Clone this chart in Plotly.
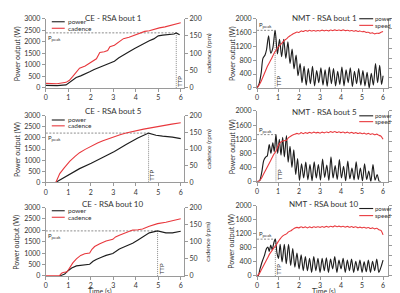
import plotly.graph_objects as go

# ---------------- DATA ----------------
# CE - RSA bout 1
ce1_t_pow = [0, 0.5, 0.9, 1.05, 1.2, 1.35, 1.55, 1.75, 1.95, 2.15, 2.35, 2.5, 2.75, 2.95, 3.05, 3.25, 3.45, 3.7, 3.95, 4.15, 4.4, 4.6, 4.8, 5.0, 5.2, 5.45, 5.7, 5.8, 5.95]
ce1_pow = [110, 100, 130, 240, 350, 450, 520, 600, 700, 800, 880, 940, 1040, 1100, 1150, 1300, 1430, 1560, 1700, 1800, 1960, 2040, 2120, 2250, 2280, 2290, 2330, 2380, 2300]
ce1_t_cad = [0, 0.5, 0.9, 1.05, 1.2, 1.35, 1.5, 1.75, 1.95, 2.1, 2.25, 2.4, 2.6, 2.75, 2.85, 3.05, 3.25, 3.45, 3.7, 3.95, 4.2, 4.4, 4.6, 4.8, 5.05, 5.3, 5.5, 5.75, 6.0]
ce1_cad = [13, 12, 16, 22, 33, 45, 57, 63, 72, 78, 84, 102, 104, 108, 119, 123, 132, 142, 146, 152, 157, 163, 165, 169, 173, 176, 180, 184, 188]

# CE - RSA bout 5
ce5_t_pow = [0.45, 0.62, 1.06, 1.5, 2.02, 2.54, 3.05, 3.57, 4.09, 4.57, 4.9, 5.19, 5.63, 6.0]
ce5_pow = [0, 100, 390, 615, 860, 1130, 1390, 1710, 2000, 2220, 2120, 2080, 2040, 1970]
ce5_t_cad = [0.45, 0.62, 0.8, 1.06, 1.3, 1.5, 1.75, 2.02, 2.3, 2.54, 2.8, 3.05, 3.3, 3.57, 3.8, 4.09, 4.35, 4.6, 4.9, 5.19, 5.6, 6.0]
ce5_cad = [0, 26, 42, 63, 78, 89, 99, 109, 118, 125, 132, 138, 143, 148, 152, 156, 160, 163, 167, 170, 175, 179]

# CE - RSA bout 10
ce10_t_pow = [0.62, 0.84, 0.99, 1.15, 1.36, 1.7, 1.95, 2.1, 2.24, 2.5, 2.68, 2.98, 3.1, 3.27, 3.55, 3.86, 4.1, 4.3, 4.6, 4.97, 5.15, 5.34, 5.63, 6.0]
ce10_pow = [0, 85, 230, 350, 440, 480, 510, 640, 725, 830, 900, 980, 1080, 1180, 1300, 1435, 1580, 1720, 1890, 1975, 1940, 1890, 1890, 1960]
ce10_t_cad = [0, 0.6, 0.7, 0.77, 0.95, 1.06, 1.2, 1.36, 1.55, 1.73, 1.95, 2.05, 2.17, 2.4, 2.68, 2.98, 3.1, 3.27, 3.55, 3.86, 4.1, 4.3, 4.6, 4.97, 5.34, 5.7, 6.0]
ce10_cad = [0, 0, 8, 10, 12, 25, 38, 50, 60, 65, 67, 78, 86, 94, 102, 107, 114, 119, 127, 134, 135, 137, 145, 153, 157, 162, 167]

# NMT - RSA bout 1
nmt1_t_pow = [0, 0.1, 0.2, 0.28, 0.38, 0.45, 0.55, 0.65, 0.75, 0.86, 0.97, 1.07, 1.17, 1.27, 1.37, 1.47, 1.57, 1.67, 1.76, 1.86, 1.95,
              2.05, 2.14, 2.24, 2.34, 2.44, 2.54, 2.64, 2.74, 2.84, 2.94, 3.04, 3.14, 3.24, 3.34, 3.44, 3.54, 3.64, 3.74, 3.84, 3.94,
              4.04, 4.14, 4.24, 4.34, 4.44, 4.54, 4.64, 4.74, 4.84, 4.94, 5.04, 5.14, 5.24, 5.34, 5.44, 5.54, 5.64, 5.74, 5.84, 5.93, 6.0]
nmt1_pow = [0, 120, 450, 850, 950, 1100, 1500, 1000, 1150, 1660, 980, 1400, 900, 1400, 850, 1330, 700, 1120, 550, 950, 350,
            700, 150, 620, 80, 560, 120, 620, 60, 500, 150, 580, 80, 520, 50, 600, 120, 560, 60, 480, 100,
            600, 60, 520, 150, 580, 40, 480, 120, 560, 80, 500, 60, 450, 0, 420, 80, 700, 150, 650, 100, 350]
nmt_t_spd = [round(i * 0.1, 1) for i in range(61)]
nmt1_spd = [0, 0.3, 0.7, 1.2, 1.7, 2.2, 2.6, 3.0, 3.45, 3.8, 4.1, 4.35, 4.55, 4.8, 4.95, 5.15, 5.3, 5.45, 5.55, 5.65,
            5.6, 5.75, 5.7, 5.8, 5.72, 5.82, 5.74, 5.8, 5.72, 5.8, 5.75, 5.83, 5.76, 5.82, 5.74, 5.85, 5.78, 5.86, 5.8, 5.84,
            5.78, 5.86, 5.78, 5.82, 5.74, 5.8, 5.72, 5.78, 5.7, 5.75, 5.66, 5.7, 5.6, 5.62, 5.52, 5.55, 5.45, 5.52, 5.5, 5.62, 5.7]

# NMT - RSA bout 5
nmt5_t_pow = [0, 0.12, 0.22, 0.32, 0.42, 0.48, 0.58, 0.66, 0.75, 0.82, 0.9, 0.98, 1.06, 1.14, 1.22, 1.3, 1.4, 1.48, 1.57, 1.66, 1.75, 1.84, 1.93,
              2.02, 2.12, 2.22, 2.32, 2.42, 2.52, 2.62, 2.72, 2.82, 2.92, 3.02, 3.12, 3.22, 3.32, 3.42, 3.52, 3.62, 3.72, 3.82, 3.92,
              4.02, 4.12, 4.22, 4.32, 4.42, 4.52, 4.62, 4.72, 4.82, 4.92, 5.02, 5.12, 5.22, 5.32, 5.42, 5.52, 5.62, 5.72, 5.82, 5.9]
nmt5_pow = [0, 20, 250, 600, 700, 720, 1050, 800, 1100, 850, 1330, 800, 1200, 750, 1250, 700, 1300, 550, 1000, 400, 900, 200, 650,
            30, 500, 100, 550, 50, 480, 20, 560, 100, 480, 40, 640, 120, 470, 30, 700, 100, 450, 60, 620,
            100, 430, 20, 580, 80, 380, 50, 560, 60, 380, 20, 500, 60, 300, 0, 480, 40, 200, 0, 0]
nmt5_spd = [0, 0.05, 0.3, 0.7, 1.1, 1.5, 1.9, 2.3, 2.7, 3.0, 3.5, 3.85, 4.0, 4.05, 4.1, 4.35, 4.5, 4.62, 4.7, 4.78,
            4.72, 4.85, 4.75, 4.85, 4.78, 4.88, 4.8, 4.9, 4.82, 4.88, 4.8, 4.9, 4.83, 4.92, 4.85, 4.95, 4.88, 4.96, 4.86, 4.94,
            4.85, 4.92, 4.82, 4.9, 4.8, 4.88, 4.78, 4.85, 4.76, 4.83, 4.74, 4.8, 4.7, 4.78, 4.68, 4.74, 4.64, 4.7, 4.58, 4.5, 4.2]

# NMT - RSA bout 10
nmt10_t_pow = [0, 0.05, 0.15, 0.25, 0.35, 0.45, 0.52, 0.58, 0.65, 0.72, 0.8, 0.87, 0.95, 1.02, 1.1, 1.19, 1.3, 1.39, 1.5, 1.6, 1.7, 1.8, 1.9,
               2.0, 2.1, 2.2, 2.3, 2.4, 2.5, 2.6, 2.7, 2.8, 2.9, 3.0, 3.1, 3.2, 3.3, 3.4, 3.5, 3.6, 3.7, 3.8, 3.9,
               4.0, 4.1, 4.2, 4.3, 4.4, 4.5, 4.6, 4.7, 4.8, 4.9, 5.0, 5.1, 5.2, 5.3, 5.4, 5.5, 5.6, 5.7, 5.8, 5.9, 6.0]
nmt10_pow = [0, 0, 220, 420, 580, 780, 820, 700, 880, 750, 950, 1050, 650, 500, 900, 400, 900, 350, 900, 300, 780, 250, 650,
             200, 600, 150, 550, 150, 500, 100, 550, 150, 500, 100, 500, 150, 520, 100, 480, 200, 550, 100, 450,
             200, 500, 100, 450, 150, 480, 100, 420, 150, 450, 100, 400, 120, 450, 100, 420, 150, 480, 100, 250, 450]
nmt10_spd = [0, 0.2, 0.6, 1.0, 1.4, 1.8, 2.2, 2.5, 2.8, 3.05, 3.4, 3.7, 3.95, 4.1, 4.2, 4.4, 4.5, 4.65, 4.78, 4.85,
             4.8, 4.92, 4.82, 4.9, 4.8, 4.9, 4.82, 4.92, 4.84, 4.92, 4.85, 4.94, 4.86, 4.95, 4.88, 4.96, 4.9, 5.0, 4.92, 4.98,
             4.9, 4.96, 4.88, 4.95, 4.86, 4.94, 4.84, 4.92, 4.82, 4.88, 4.8, 4.86, 4.78, 4.84, 4.74, 4.8, 4.7, 4.76, 4.62, 4.55, 4.1]

titles = ["CE - RSA bout 1", "NMT - RSA bout 1", "CE - RSA bout 5", "NMT - RSA bout 5", "CE - RSA bout 10", "NMT - RSA bout 10"]
cad_ticks = [0, 50, 100, 150, 200]
spd_ticks = [0, 1, 2, 3, 4, 5, 6, 7]
ce_pow_ticks = [0, 500, 1000, 1500, 2000, 2500, 3000]
nmt_pow_ticks = [0, 400, 800, 1200, 1600, 2000]
x_ticks = [0, 1, 2, 3, 4, 5, 6]

# ---------------- STYLE / LAYOUT ----------------
W, H = 400, 293
FONT = "Lato"
TXT = "#333333"
AX = "#9a9a9a"
RED = "#e8383d"
BLK = "#1e1e1e"
REF = "#8c8c8c"

def px_x(p):
    return p / W

def px_y(p):
    return 1 - p / H

panels = [
    dict(kind="CE", tp=ce1_t_pow, p=ce1_pow, ts=ce1_t_cad, s=ce1_cad, col=0,
         top=5.7, bot=77, title_y=4.9, leg=(9, 15.7)),
    dict(kind="NMT", tp=nmt1_t_pow, p=nmt1_pow, ts=nmt_t_spd, s=nmt1_spd, col=1,
         top=5.7, bot=77, title_y=5.0, leg=(5.9, 12.7)),
    dict(kind="CE", tp=ce5_t_pow, p=ce5_pow, ts=ce5_t_cad, s=ce5_cad, col=0,
         top=105.7, bot=174, title_y=101, leg=(110, 116)),
    dict(kind="NMT", tp=nmt5_t_pow, p=nmt5_pow, ts=nmt_t_spd, s=nmt5_spd, col=1,
         top=100.7, bot=173.3, title_y=101.7, leg=(105.7, 111.7)),
    dict(kind="CE", tp=ce10_t_pow, p=ce10_pow, ts=ce10_t_cad, s=ce10_cad, col=0,
         top=200, bot=270.3, title_y=196, leg=(203.3, 210)),
    dict(kind="NMT", tp=nmt10_t_pow, p=nmt10_pow, ts=nmt_t_spd, s=nmt10_spd, col=1,
         top=198.3, bot=270.3, title_y=196, leg=(201, 208.3)),
]

cols = [dict(l=36, r=175, rng=6.15, ytitle_x=7, y2title_x=199, center=104),
        dict(l=248.3, r=380, rng=6.24, ytitle_x=223, y2title_x=389, center=316)]

fig = go.Figure()
layout = dict(width=W, height=H, margin=dict(l=0, r=0, t=0, b=0),
              paper_bgcolor="white", plot_bgcolor="white", showlegend=False,
              font=dict(family=FONT, size=7, color=TXT))
annotations = []
shapes = []

for i, pn in enumerate(panels):
    n = i + 1
    xa = "x" if n == 1 else f"x{n}"
    ya1 = 2 * n - 1
    ya2 = 2 * n
    ya1n = "y" if ya1 == 1 else f"y{ya1}"
    ya2n = f"y{ya2}"
    c = cols[pn["col"]]
    xdom = [px_x(c["l"]), px_x(c["r"])]
    ydom = [px_y(pn["bot"]), px_y(pn["top"])]
    ce = pn["kind"] == "CE"
    prange = 3000 if ce else 2000
    srange = 200 if ce else 7

    axcommon = dict(showline=True, linecolor=AX, linewidth=1, ticks="outside", tickcolor=AX,
                    ticklen=3, tickwidth=1, showgrid=False, zeroline=False,
                    tickfont=dict(family=FONT, size=7, color=TXT))
    layout["xaxis" if n == 1 else f"xaxis{n}"] = dict(
        domain=xdom, range=[0, c["rng"]], anchor=ya1n, tickvals=x_ticks, **axcommon)
    layout["yaxis" if ya1 == 1 else f"yaxis{ya1}"] = dict(
        domain=ydom, range=[0, prange], anchor=xa,
        tickvals=ce_pow_ticks if ce else nmt_pow_ticks, **axcommon)
    layout[f"yaxis{ya2}"] = dict(
        range=[0, srange], overlaying=ya1n, side="right", anchor=xa,
        tickvals=cad_ticks if ce else spd_ticks, **axcommon)

    # Ppeak / TTP reference lines derived from the data
    pk = max(pn["p"])
    ttp = pn["tp"][pn["p"].index(pk)]
    fig.add_trace(go.Scatter(x=[0, ttp], y=[pk, pk], mode="lines", xaxis=xa, yaxis=ya1n,
                             line=dict(color=REF, width=1, dash="2px,1.5px"), hoverinfo="skip"))
    fig.add_trace(go.Scatter(x=[ttp, ttp], y=[0, pk], mode="lines", xaxis=xa, yaxis=ya1n,
                             line=dict(color=REF, width=1, dash="1px,1px"), hoverinfo="skip"))

    shape = "linear" if ce else "spline"
    # secondary (red) then power (black)
    fig.add_trace(go.Scatter(x=pn["ts"], y=pn["s"], mode="lines", xaxis=xa, yaxis=ya2n,
                             line=dict(color=RED, width=1.1, shape=shape, smoothing=0.6),
                             name="cadence" if ce else "speed"))
    fig.add_trace(go.Scatter(x=pn["tp"], y=pn["p"], mode="lines", xaxis=xa, yaxis=ya1n,
                             line=dict(color=BLK, width=1.15, shape=shape, smoothing=0.8),
                             name="power"))

    # title
    annotations.append(dict(text=titles[i], xref="paper", yref="paper",
                            x=px_x(c["center"]), y=px_y(pn["title_y"]),
                            xanchor="center", yanchor="middle", showarrow=False, borderpad=0,
                            font=dict(family=FONT, size=8, color=TXT)))
    # axis titles
    mid = (pn["top"] + pn["bot"]) / 2
    annotations.append(dict(text="Power output (W)", xref="paper", yref="paper",
                            x=px_x(c["ytitle_x"]), y=px_y(mid), textangle=-90,
                            xanchor="center", yanchor="middle", showarrow=False, borderpad=0,
                            font=dict(family=FONT, size=7, color=TXT)))
    annotations.append(dict(text="cadence (rpm)" if ce else "Speed (m/s)", xref="paper", yref="paper",
                            x=px_x(c["y2title_x"]), y=px_y(mid), textangle=-90,
                            xanchor="center", yanchor="middle", showarrow=False, borderpad=0,
                            font=dict(family=FONT, size=6.5, color=TXT)))
    # Ppeak label
    annotations.append(dict(text="P<sub>peak</sub>", xref=f"{xa} domain", yref=ya1n,
                            x=0.01, y=pk, xanchor="left", yanchor="middle",
                            yshift=-5 if ce else 5, showarrow=False, borderpad=0,
                            font=dict(family=FONT, size=6, color=TXT)))
    # TTP label
    annotations.append(dict(text="TTP", xref=xa, yref=f"{ya1n} domain",
                            x=ttp, y=0.1, xshift=3.5, textangle=-90,
                            xanchor="center", yanchor="middle", showarrow=False, borderpad=0,
                            font=dict(family=FONT, size=6, color=TXT)))

    # legend glyphs
    h = pn["bot"] - pn["top"]
    wdt = c["r"] - c["l"]
    if ce:
        lx0, lx1, tx = 42, 55, 57
    else:
        lx0, lx1, tx = 351, 365, 366
    for yy, col, lab in [(pn["leg"][0], BLK, "power"), (pn["leg"][1], RED, "cadence" if ce else "speed")]:
        yd = (pn["bot"] - yy) / h
        shapes.append(dict(type="line", xref=f"{xa} domain", yref=f"{ya1n} domain",
                           x0=(lx0 - c["l"]) / wdt, x1=(lx1 - c["l"]) / wdt, y0=yd, y1=yd,
                           line=dict(color=col, width=1.1)))
        annotations.append(dict(text=lab, xref=f"{xa} domain", yref=f"{ya1n} domain",
                                x=(tx - c["l"]) / wdt, y=yd, xanchor="left", yanchor="middle",
                                showarrow=False, borderpad=0,
                                font=dict(family=FONT, size=6 if not ce else 6.5, color=TXT)))

# Time (s) labels under bottom row
for cx in [90, 316]:
    annotations.append(dict(text="Time (s)", xref="paper", yref="paper", x=px_x(cx), y=px_y(286),
                            xanchor="center", yanchor="middle", showarrow=False, borderpad=0,
                            font=dict(family=FONT, size=7, color=TXT)))

layout["annotations"] = annotations
layout["shapes"] = shapes
fig.update_layout(**layout)
fig.write_html("out.html")
